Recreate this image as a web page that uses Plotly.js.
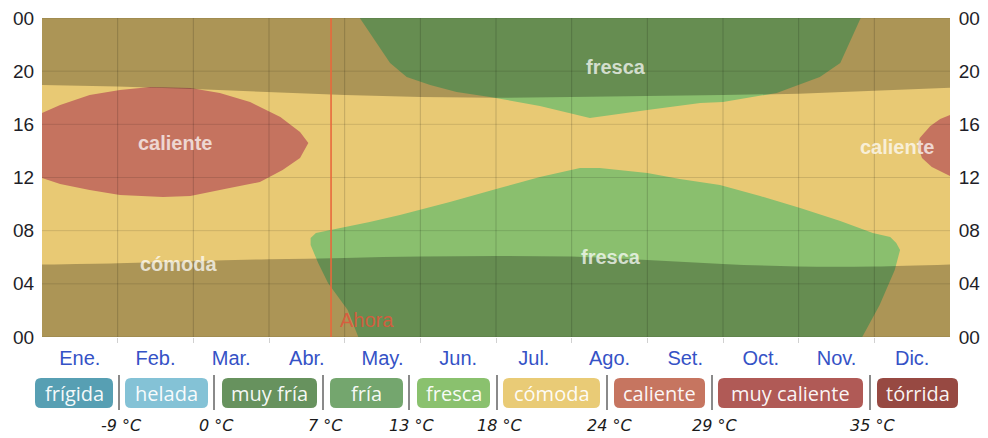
<!DOCTYPE html>
<html><head><meta charset="utf-8">
<script src="https://cdn.plot.ly/plotly-3.0.1.min.js"></script>
<style>html,body{margin:0;padding:0;background:#fff}#chart{width:988px;height:438px}</style>
</head><body><div id="chart"></div>
<script>
// ---------- data ----------
const months = ['Ene.','Feb.','Mar.','Abr.','May.','Jun.','Jul.','Ago.','Set.','Oct.','Nov.','Dic.'];
const monthBounds = [0,1,2,3,4,5,6,7,8,9,10,11,12];
const hourTicks = [0,4,8,12,16,20,24];
const hourLabels = ['00','04','08','12','16','20','00'];

// night shading (hour of sunrise / sunset at month boundaries)
const sunrise = [5.45,5.55,5.7,5.85,5.95,6.05,6.1,6.05,5.8,5.5,5.3,5.3,5.45];
const sunset  = [18.95,18.85,18.65,18.4,18.2,18.05,18.0,18.05,18.1,18.2,18.3,18.5,18.75];

// fresca region, morning part (month, hour)
const frescaAmX = [4.18,4.04,3.78,3.65,3.55,3.55,3.62,3.94,4.33,4.73,5.39,6.05,6.58,7.11,7.37,8.00,8.43,8.96,9.49,10.02,10.55,10.98,11.21,11.29,11.34,11.27,11.07,10.84];
const frescaAmY = [0,2.03,4.06,5.57,6.92,7.45,7.83,8.20,8.65,9.18,10.16,11.21,12.04,12.72,12.72,12.34,11.89,11.44,10.61,9.71,8.73,7.83,7.53,7.07,6.55,5.04,2.41,0];
// fresca region, evening part
const frescaPmX = [4.20,4.40,4.60,4.82,5.13,5.48,5.92,6.58,7.24,8.00,8.70,9.00,9.71,10.28,10.55,10.82];
const frescaPmY = [24,22.35,20.62,19.56,18.96,18.43,18.06,17.38,16.48,17.08,17.61,17.68,18.36,19.56,20.62,24];

// caliente regions
const calienteEarlyX = [0,0.24,0.63,1.03,1.43,1.96,2.35,2.75,3.15,3.41,3.52,3.41,3.18,2.88,2.48,1.96,1.60,1.03,0.63,0.24,0];
const calienteEarlyY = [16.86,17.46,18.21,18.59,18.81,18.74,18.36,17.68,16.55,15.43,14.60,13.47,12.57,11.66,11.21,10.61,10.53,10.68,11.06,11.51,11.96];
const calienteLateX = [12,11.87,11.74,11.60,11.58,11.63,11.76,11.89,12];
const calienteLateY = [16.70,16.40,15.88,14.97,14.30,13.47,12.79,12.42,12.11];

const nowMonth = 3.82;

// region labels
const labelText = ['caliente','caliente','fresca','fresca','cómoda'];
const labelX = [1.76,11.3,7.59,7.52,1.81];
const labelY = [14.6,14.3,20.3,6.0,5.5];

// legend
const bandNames = ['frígida','helada','muy fría','fría','fresca','cómoda','caliente','muy caliente','tórrida'];
const bandThresholds = ['-9 °C','0 °C','7 °C','13 °C','18 °C','24 °C','29 °C','35 °C'];

// ---------- styles ----------
const bandColors = ['#579fb3','#84c2d6','#67925e','#74a66e','#8ac16e','#e9cb76','#c67560','#b05a56','#974942'];
const C_COMODA = '#e8c974', C_FRESCA = '#8abf6e', C_CALIENTE = '#c5735f';
const NIGHT = 'rgba(0,0,0,0.26)';
const legendBoxPx = [[35,113],[125,208],[222,317],[330,403],[417,490],[503,600],[614,705],[718,863],[877,958]];
const legendSepPx = [119,214,323,409,497,607,712,870];

const W = 988, H = 438, ML = 42, MR = 38, MT = 18, MB = 101;
const PW = W - ML - MR, PH = H - MT - MB;
const px2x = p => (p - ML) / PW;
const py2y = p => (H - MB - p) / PH;

function poly(x, y, color, yaxis) {
  return {x, y, type:'scatter', mode:'lines', fill:'toself', fillcolor:color,
          line:{width:0, color:color}, hoverinfo:'skip', showlegend:false, yaxis: yaxis || 'y'};
}

const traces = [
  poly(frescaAmX, frescaAmY, C_FRESCA),
  poly(frescaPmX, frescaPmY, C_FRESCA),
  poly(calienteEarlyX, calienteEarlyY, C_CALIENTE),
  {x: monthBounds, y: sunrise, type:'scatter', mode:'lines', fill:'tozeroy', fillcolor:NIGHT,
   line:{width:0, shape:'spline'}, hoverinfo:'skip', showlegend:false},
  poly(monthBounds.concat(monthBounds.slice().reverse()),
       sunset.concat(monthBounds.map(() => hourTicks[hourTicks.length-1])), NIGHT),
  poly(calienteLateX, calienteLateY, C_CALIENTE, 'y2')
];

const shapes = [];
hourTicks.forEach(h => shapes.push({type:'line', xref:'x', yref:'y', x0:0, x1:12, y0:h, y1:h,
  line:{color:'rgba(0,0,0,0.12)', width:1}, layer:'above'}));
monthBounds.slice(1, -1).forEach(m => shapes.push({type:'line', xref:'x', yref:'y', x0:m, x1:m, y0:0, y1:24,
  line:{color:'rgba(0,0,0,0.17)', width:1}, layer:'above'}));
shapes.push({type:'line', xref:'x', yref:'y', x0:nowMonth, x1:nowMonth, y0:0, y1:24,
  line:{color:'#e8683c', width:1.6}, layer:'above'});

// legend shapes
const r = 6;
legendBoxPx.forEach((b, i) => {
  const x0 = b[0], x1 = b[1], y0 = 378, y1 = 408;
  const P = (x, y) => px2x(x).toFixed(5) + ',' + py2y(y).toFixed(5);
  const path = 'M' + P(x0 + r, y0) + ' L' + P(x1 - r, y0) + ' Q' + P(x1, y0) + ' ' + P(x1, y0 + r) +
    ' L' + P(x1, y1 - r) + ' Q' + P(x1, y1) + ' ' + P(x1 - r, y1) + ' L' + P(x0 + r, y1) +
    ' Q' + P(x0, y1) + ' ' + P(x0, y1 - r) + ' L' + P(x0, y0 + r) + ' Q' + P(x0, y0) + ' ' + P(x0 + r, y0) + ' Z';
  shapes.push({type:'path', xref:'paper', yref:'paper', path, fillcolor:bandColors[i], line:{width:0}});
});
legendSepPx.forEach(s => shapes.push({type:'line', xref:'paper', yref:'paper',
  x0:px2x(s), x1:px2x(s), y0:py2y(375), y1:py2y(410), line:{color:'#8a8a8a', width:2}}));

const annotations = [];
labelText.forEach((t, i) => annotations.push({x:labelX[i], y:labelY[i], xref:'x', yref:'y', text:t,
  showarrow:false, font:{family:'Liberation Sans, Arial, sans-serif', size:20, color:'rgba(255,255,255,0.72)', weight:'bold'}}));
annotations.push({x:nowMonth + 0.48, y:1.28, xref:'x', yref:'y', text:'Ahora', showarrow:false,
  font:{family:'Liberation Sans, Arial, sans-serif', size:20, color:'rgba(222,88,60,0.9)'}});
bandNames.forEach((t, i) => annotations.push({x:px2x((legendBoxPx[i][0] + legendBoxPx[i][1]) / 2), y:py2y(393),
  xref:'paper', yref:'paper', text:t, showarrow:false, xanchor:'center', yanchor:'middle',
  font:{family:'Open Sans, sans-serif', size:20, color:'rgba(255,255,255,0.95)'}}));
bandThresholds.forEach((t, i) => annotations.push({x:px2x(legendSepPx[i] + 2), y:py2y(425),
  xref:'paper', yref:'paper', text:t, showarrow:false, xanchor:'center', yanchor:'middle',
  font:{family:'DejaVu Sans, sans-serif', size:16, color:'#1a1a1a', style:'italic'}}));

const tickFontY = {family:'Liberation Sans, Arial, sans-serif', size:19, color:'#1e1e28'};
const layout = {
  width:W, height:H, margin:{l:ML, r:MR, t:MT, b:MB, pad:0},
  paper_bgcolor:'#fff', plot_bgcolor:C_COMODA, showlegend:false,
  xaxis:{range:[0,12], tickmode:'array', tickvals:months.map((m, i) => i + 0.5), ticktext:months,
    ticks:'outside', ticklen:3, tickcolor:'rgba(0,0,0,0)', showgrid:false, zeroline:false, showline:false,
    tickfont:{family:'Liberation Sans, Arial, sans-serif', size:20, color:'#3552c6'}, fixedrange:true,
    minor:{tickmode:'array', tickvals:monthBounds.slice(1, -1), ticks:'outside', ticklen:5,
      tickcolor:'rgba(0,0,0,0.18)', showgrid:false}},
  yaxis:{range:[0,24], tickmode:'array', tickvals:hourTicks, ticktext:hourLabels, showgrid:false,
    zeroline:false, showline:false, ticks:'outside', ticklen:3, tickcolor:'rgba(0,0,0,0)', tickfont:tickFontY, fixedrange:true},
  yaxis2:{range:[0,24], overlaying:'y', side:'right', tickmode:'array', tickvals:hourTicks, ticktext:hourLabels,
    showgrid:false, zeroline:false, showline:false, ticks:'outside', ticklen:4, tickcolor:'rgba(0,0,0,0)', tickfont:tickFontY, fixedrange:true},
  shapes, annotations
};

Plotly.newPlot('chart', traces, layout, {displayModeBar:false, staticPlot:true});
</script></body></html>
